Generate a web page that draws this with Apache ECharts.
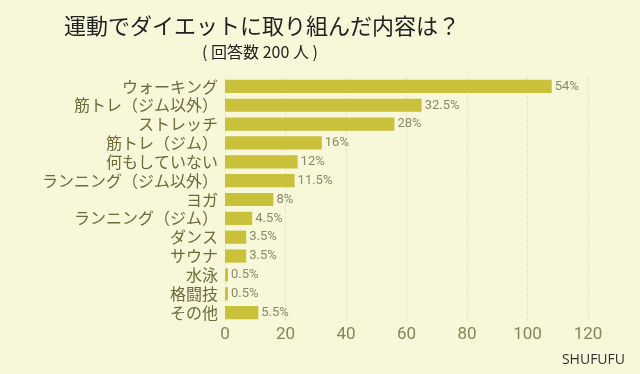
<!DOCTYPE html>
<html><head><meta charset="utf-8">
<script src="https://cdn.jsdelivr.net/npm/echarts@6/dist/echarts.min.js"></script>
<style>html,body{margin:0;padding:0;background:#f7f7d9;}#c{width:640px;height:374px;}</style>
</head><body><div id="c"></div>
<script>
const categories = ["ウォーキング","筋トレ（ジム以外）","ストレッチ","筋トレ（ジム）","何もしていない","ランニング（ジム以外）","ヨガ","ランニング（ジム）","ダンス","サウナ","水泳","格闘技","その他"];
const counts = [108, 65, 56, 32, 24, 23, 16, 9, 7, 7, 1, 1, 11];
const percentLabels = ["54%","32.5%","28%","16%","12%","11.5%","8%","4.5%","3.5%","3.5%","0.5%","0.5%","5.5%"];
const xTicks = [0, 20, 40, 60, 80, 100, 120];

const chart = echarts.init(document.getElementById('c'), null, {renderer:'canvas'});
chart.setOption({
  backgroundColor: '#f7f7d9',
  animation: false,
  title: [
    {text: '運動でダイエットに取り組んだ内容は？', left: 257, top: 10, textAlign: 'center',
     textStyle: {fontFamily: 'Noto Sans CJK JP', fontSize: 22, fontWeight: 'normal', color: '#222222'}},
    {text: '( 回答数 200 人 )', left: 255, top: 39, textAlign: 'center',
     textStyle: {fontFamily: 'Noto Sans CJK JP', fontSize: 16, fontWeight: 'normal', color: '#222222'}},
    {text: 'SHUFUFU', right: 10, top: 348,
     textStyle: {fontFamily: 'Open Sans', fontSize: 14, fontWeight: 'normal', color: '#333333'}}
  ],
  grid: {left: 225, right: 52, top: 77, bottom: 52, containLabel: false},
  xAxis: {
    type: 'value', min: 0, max: 120, interval: 20,
    axisLine: {show: false}, axisTick: {show: false},
    axisLabel: {fontFamily: 'Roboto', fontSize: 17, color: '#86855a', margin: 4,
      formatter: v => xTicks.includes(v) ? String(v) : ''},
    splitLine: {show: true, lineStyle: {type: 'dashed', color: '#e6e6c4', width: 1}}
  },
  yAxis: {
    type: 'category', data: categories, inverse: true,
    axisLine: {show: false}, axisTick: {show: false},
    axisLabel: {interval: 0, fontFamily: 'Noto Sans CJK JP', fontSize: 16, color: '#6e6a3a', margin: 7}
  },
  series: [{
    type: 'bar', data: counts, barWidth: '70%',
    itemStyle: {color: '#c9c13a'},
    label: {show: true, position: 'right', distance: 3,
      fontFamily: 'Roboto', fontSize: 13, color: '#8b8a68',
      formatter: p => percentLabels[p.dataIndex]}
  }]
});
</script></body></html>
